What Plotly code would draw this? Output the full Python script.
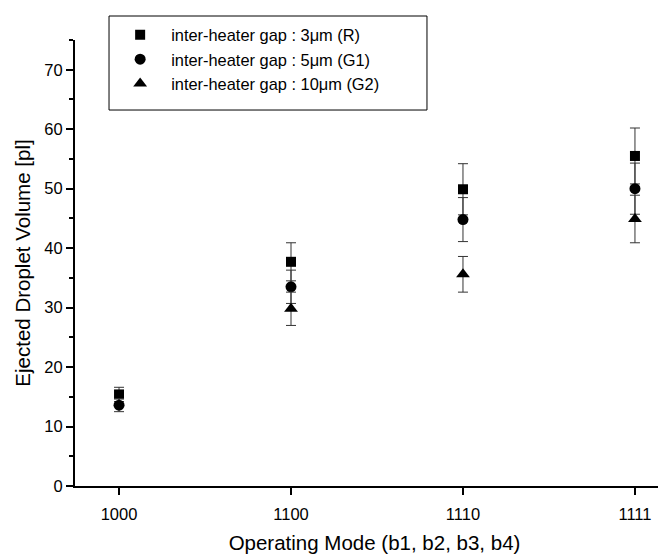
import plotly.graph_objects as go

categories = ["1000", "1100", "1110", "1111"]
series_names = [
    "inter-heater gap : 3μm (R)",
    "inter-heater gap : 5μm (G1)",
    "inter-heater gap : 10μm (G2)",
]
vol_R = [15.4, 37.7, 49.9, 55.5]
err_R = [1.2, 3.2, 4.3, 4.7]
vol_G1 = [13.6, 33.5, 44.8, 50.0]
err_G1 = [1.1, 2.8, 3.7, 4.3]
vol_G2 = [None, 29.8, 35.6, 44.9]
err_G2 = [None, 2.8, 3.0, 4.0]

symbols = ["square", "circle", "triangle-up"]
sizes = [10, 11, 12]
values = [vol_R, vol_G1, vol_G2]
errors = [err_R, err_G1, err_G2]

FONT = "Arial, Liberation Sans, sans-serif"
fig = go.Figure()
xs = list(range(len(categories)))
for name, v, e, sym, sz in zip(series_names, values, errors, symbols, sizes):
    fig.add_trace(go.Scatter(
        x=xs, y=v, name=name, mode="markers",
        marker=dict(symbol=sym, size=sz, color="black"),
        error_y=dict(type="data", array=e, visible=True, color="#333333",
                     thickness=1, width=5),
    ))

# legend frame (wider than the entries, as in the original figure)
fig.add_shape(type="rect", xref="paper", yref="paper",
              x0=0.0568, x1=0.5876, y0=0.843, y1=1.0538,
              line=dict(color="black", width=1), fillcolor="rgba(0,0,0,0)")

fig.update_layout(
    width=666, height=555,
    margin=dict(l=67, r=0, t=32, b=77),
    plot_bgcolor="white", paper_bgcolor="white",
    font=dict(family=FONT, size=16, color="black"),
    showlegend=True,
    legend=dict(
        x=0.057, y=1.05, xanchor="left", yanchor="top",
        borderwidth=0, bgcolor="rgba(0,0,0,0)",
        font=dict(size=16.4, family=FONT), itemwidth=52,
        tracegroupgap=0,
    ),
    xaxis=dict(
        range=[-0.256, 3.227],
        tickmode="array", tickvals=xs, ticktext=categories,
        showgrid=False, zeroline=False,
        showline=True, linecolor="black", linewidth=2,
        ticks="outside", ticklen=7, tickwidth=2, tickcolor="black",
        tickfont=dict(size=16.5), ticklabelstandoff=5,
        title=dict(text="Operating Mode (b1, b2, b3, b4)", font=dict(size=20.5), standoff=14),
    ),
    yaxis=dict(
        range=[0, 75],
        tickmode="linear", tick0=0, dtick=10,
        showgrid=False, zeroline=False,
        showline=True, linecolor="black", linewidth=2,
        ticks="outside", ticklen=7, tickwidth=2, tickcolor="black",
        minor=dict(ticks="outside", ticklen=4, tickwidth=2, tickcolor="black", dtick=5, tick0=0),
        tickfont=dict(size=16.5),
        title=dict(text="Ejected Droplet Volume [pl]", font=dict(size=20.5), standoff=8),
    ),
)

fig.write_html("out.html")
